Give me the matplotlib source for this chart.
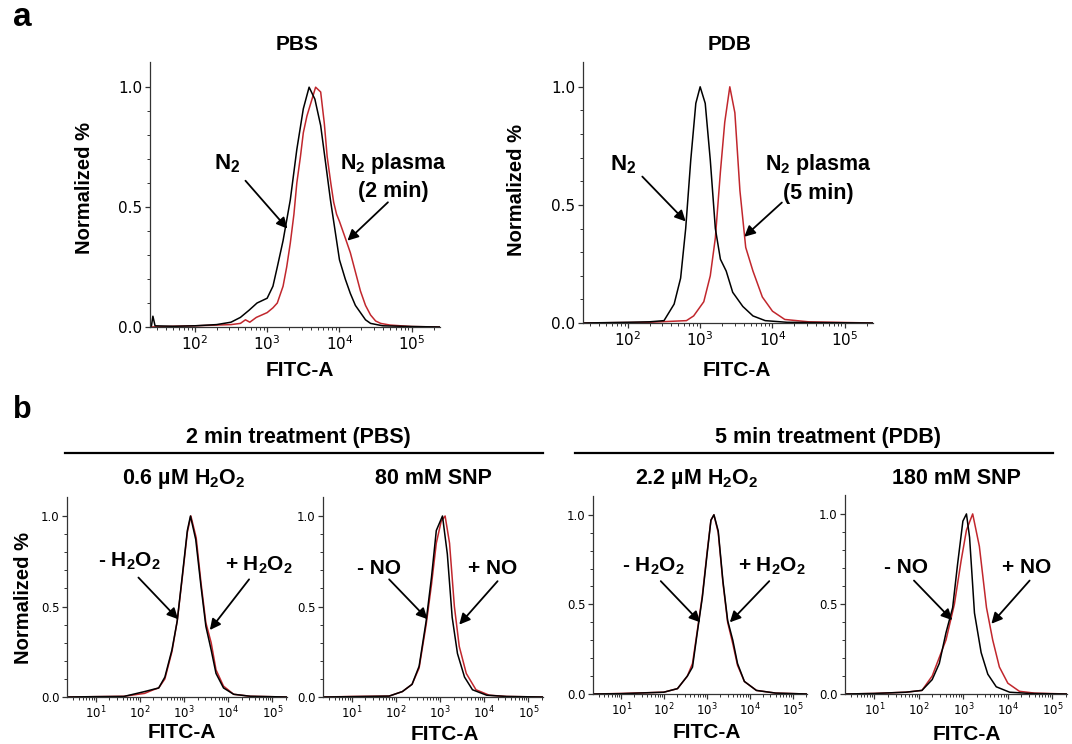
import matplotlib
matplotlib.use("Agg")
import matplotlib.pyplot as plt
from matplotlib.ticker import FixedLocator, FormatStrFormatter, LogLocator, NullFormatter

W, H = 1072, 744
RED = "#c1272d"
LABEL_FONT = "Liberation Sans"
TICK_FONT = "DejaVu Sans"

# histograms: log10(FITC-A) and normalized count
pbs_n2_x = [1.38, 1.40, 1.42, 1.45, 1.7, 2.0, 2.3, 2.5, 2.63, 2.75, 2.86, 3.0, 3.08, 3.14, 3.22,
            3.32, 3.41, 3.5, 3.58, 3.66, 3.74, 3.81, 3.875, 3.94, 4.0, 4.08, 4.15, 4.22, 4.29,
            4.36, 4.43, 4.6, 5.0, 5.39]
pbs_n2_y = [0.0, 0.005, 0.045, 0.005, 0.003, 0.005, 0.01, 0.02, 0.04, 0.07, 0.10, 0.12, 0.17, 0.25,
            0.36, 0.53, 0.74, 0.91, 1.0, 0.95, 0.84, 0.68, 0.53, 0.40, 0.28, 0.20, 0.14, 0.09, 0.06,
            0.03, 0.015, 0.005, 0.002, 0.0]
pbs_pl_x = [1.38, 1.7, 2.0, 2.3, 2.5, 2.63, 2.7, 2.76, 2.85, 3.0, 3.08, 3.14, 3.22, 3.27, 3.32,
            3.37, 3.41, 3.46, 3.5, 3.55, 3.6, 3.67, 3.74, 3.79, 3.83, 3.88, 3.92, 3.96, 4.0, 4.07,
            4.15, 4.22, 4.29, 4.36, 4.43, 4.5, 4.57, 4.7, 4.85, 5.0, 5.39]
pbs_pl_y = [0.0, 0.003, 0.005, 0.008, 0.01, 0.015, 0.03, 0.02, 0.04, 0.06, 0.08, 0.10, 0.17, 0.25,
            0.35, 0.47, 0.60, 0.71, 0.81, 0.88, 0.93, 1.0, 0.98, 0.85, 0.71, 0.60, 0.52, 0.47, 0.44,
            0.38, 0.31, 0.23, 0.15, 0.09, 0.05, 0.025, 0.015, 0.008, 0.005, 0.002, 0.0]

pdb_n2_x = [1.38, 2.0, 2.3, 2.5, 2.64, 2.73, 2.80, 2.87, 2.94, 3.00, 3.07, 3.14, 3.21, 3.28, 3.36,
            3.45, 3.59, 3.73, 3.9, 4.2, 5.39]
pdb_n2_y = [0.0, 0.003, 0.005, 0.01, 0.08, 0.19, 0.40, 0.69, 0.93, 1.0, 0.93, 0.69, 0.40, 0.27,
            0.22, 0.13, 0.07, 0.03, 0.01, 0.003, 0.0]
pdb_pl_x = [1.38, 2.3, 2.81, 2.91, 3.05, 3.14, 3.21, 3.28, 3.34, 3.41, 3.48, 3.55, 3.63, 3.73,
            3.86, 4.0, 4.17, 4.5, 5.39]
pdb_pl_y = [0.0, 0.003, 0.01, 0.03, 0.09, 0.20, 0.36, 0.64, 0.85, 1.0, 0.89, 0.56, 0.32, 0.22,
            0.11, 0.05, 0.015, 0.005, 0.0]

h2o2_a_ctrl_x = [0.34, 1.0, 1.63, 2.10, 2.42, 2.56, 2.72, 2.84, 2.96, 3.07, 3.14, 3.26, 3.38, 3.49,
                 3.61, 3.72, 3.89, 4.12, 4.5, 5.33]
h2o2_a_ctrl_y = [0.0, 0.002, 0.003, 0.03, 0.05, 0.11, 0.26, 0.42, 0.68, 0.92, 1.0, 0.87, 0.61, 0.39,
                 0.26, 0.13, 0.05, 0.015, 0.004, 0.0]
h2o2_a_trt_x = [0.34, 1.0, 1.63, 2.10, 2.30, 2.42, 2.56, 2.72, 2.84, 2.96, 3.07, 3.15, 3.27, 3.38,
                3.49, 3.61, 3.72, 3.89, 4.12, 4.5, 5.33]
h2o2_a_trt_y = [0.0, 0.002, 0.004, 0.02, 0.04, 0.05, 0.10, 0.25, 0.42, 0.67, 0.91, 1.0, 0.88, 0.63,
                0.41, 0.30, 0.15, 0.06, 0.015, 0.004, 0.0]

snp_a_ctrl_x = [0.34, 1.0, 1.84, 2.14, 2.36, 2.52, 2.68, 2.80, 2.91, 3.05, 3.16, 3.27, 3.39, 3.55,
                3.73, 4.05, 4.5, 5.33]
snp_a_ctrl_y = [0.0, 0.002, 0.005, 0.03, 0.07, 0.17, 0.42, 0.66, 0.92, 1.0, 0.79, 0.44, 0.24, 0.11,
                0.04, 0.01, 0.003, 0.0]
snp_a_trt_x = [0.34, 1.0, 1.84, 2.14, 2.36, 2.52, 2.68, 2.80, 2.91, 3.02, 3.11, 3.21, 3.32, 3.43,
               3.59, 3.81, 4.11, 4.5, 5.33]
snp_a_trt_y = [0.0, 0.003, 0.005, 0.03, 0.07, 0.16, 0.40, 0.62, 0.85, 0.97, 1.0, 0.85, 0.50, 0.28,
               0.13, 0.04, 0.01, 0.003, 0.0]

h2o2_b_ctrl_x = [0.34, 1.0, 1.99, 2.31, 2.54, 2.66, 2.77, 2.89, 3.00, 3.09, 3.16, 3.26, 3.37, 3.48,
                 3.60, 3.71, 3.87, 4.15, 4.6, 5.33]
h2o2_b_ctrl_y = [0.0, 0.002, 0.01, 0.03, 0.10, 0.15, 0.34, 0.54, 0.78, 0.97, 1.0, 0.91, 0.63, 0.41,
                 0.30, 0.17, 0.07, 0.02, 0.005, 0.0]
h2o2_b_trt_x = [0.34, 1.0, 1.99, 2.31, 2.54, 2.66, 2.77, 2.89, 3.00, 3.09, 3.16, 3.26, 3.37, 3.48,
                3.60, 3.71, 3.87, 4.15, 4.6, 5.33]
h2o2_b_trt_y = [0.0, 0.003, 0.01, 0.03, 0.10, 0.17, 0.35, 0.55, 0.79, 0.97, 1.0, 0.90, 0.62, 0.40,
                0.28, 0.16, 0.07, 0.02, 0.005, 0.0]

snp_b_ctrl_x = [0.34, 1.0, 1.71, 2.07, 2.30, 2.46, 2.61, 2.76, 2.87, 2.99, 3.07, 3.14, 3.25, 3.40,
                3.55, 3.74, 4.04, 4.5, 5.33]
snp_b_ctrl_y = [0.0, 0.003, 0.01, 0.02, 0.08, 0.17, 0.34, 0.48, 0.72, 0.96, 1.0, 0.87, 0.45, 0.23,
                0.11, 0.04, 0.01, 0.003, 0.0]
snp_b_trt_x = [0.34, 1.0, 1.71, 2.07, 2.30, 2.61, 2.80, 2.95, 3.07, 3.21, 3.36, 3.52, 3.66, 3.81,
               4.00, 4.26, 4.6, 5.33]
snp_b_trt_y = [0.0, 0.003, 0.01, 0.02, 0.10, 0.30, 0.50, 0.74, 0.91, 1.0, 0.82, 0.48, 0.30, 0.15,
               0.06, 0.015, 0.005, 0.0]

plt.rcParams["font.family"] = [LABEL_FONT, "DejaVu Sans"]

fig = plt.figure(figsize=(W / 100, H / 100), dpi=100)


def px_axes(l, r, t, b):
    return fig.add_axes([l / W, 1 - b / H, (r - l) / W, (b - t) / H])


def ftext(x, y, s, size, **kw):
    fig.text(x / W, 1 - y / H, s, fontsize=size, fontweight="bold",
             ha=kw.pop("ha", "center"), va=kw.pop("va", "center"), **kw)


def style(ax, xlo, xhi, tick_size):
    ax.set_xscale("log")
    ax.set_xlim(10 ** xlo, 10 ** xhi)
    ax.set_ylim(0, 1.105)
    for s in ("top", "right"):
        ax.spines[s].set_visible(False)
    for s in ("left", "bottom"):
        ax.spines[s].set_color("#333333")
        ax.spines[s].set_linewidth(0.9)
    ax.yaxis.set_major_locator(FixedLocator([0.0, 0.5, 1.0]))
    ax.yaxis.set_minor_locator(FixedLocator([0.1, 0.2, 0.3, 0.4, 0.6, 0.7, 0.8, 0.9]))
    ax.yaxis.set_major_formatter(FormatStrFormatter("%.1f"))
    ax.xaxis.set_major_locator(LogLocator(base=10, numticks=12))
    ax.xaxis.set_minor_locator(LogLocator(base=10, subs=range(2, 10), numticks=12))
    ax.xaxis.set_minor_formatter(NullFormatter())
    ax.tick_params(which="major", direction="out", length=3.5, width=0.9, color="#333333",
                   labelsize=tick_size, pad=2)
    ax.tick_params(which="minor", direction="out", length=2, width=0.7, color="#333333")
    for lab in ax.get_xticklabels() + ax.get_yticklabels():
        lab.set_fontfamily(TICK_FONT)


def curves(ax, xs_ctrl, ys_ctrl, xs_trt, ys_trt):
    ax.plot([10 ** v for v in xs_trt], ys_trt, color=RED, lw=1.1)
    ax.plot([10 ** v for v in xs_ctrl], ys_ctrl, color="black", lw=1.1)


def label(ax, x, y, s, size=15):
    ax.text(10 ** x, y, s, fontsize=size, fontweight="bold", ha="center", va="center")


def arrow(ax, tail, head):
    ax.annotate("", xy=(10 ** head[0], head[1]), xytext=(10 ** tail[0], tail[1]),
                arrowprops=dict(arrowstyle="-|>", color="black", lw=1.3,
                                mutation_scale=16, shrinkA=0, shrinkB=0))


# ---- panel a ----
ax1 = px_axes(150, 440, 62, 327)
style(ax1, 1.38, 5.39, 11)
curves(ax1, pbs_n2_x, pbs_n2_y, pbs_pl_x, pbs_pl_y)
label(ax1, 2.45, 0.68, r"$\mathregular{N_2}$", 16)
arrow(ax1, (2.70, 0.61), (3.28, 0.41))
label(ax1, 4.74, 0.68, r"$\mathregular{N_2}$ plasma", 15.5)
label(ax1, 4.74, 0.565, "(2 min)", 15.5)
arrow(ax1, (4.67, 0.52), (4.11, 0.36))

ax2 = px_axes(583, 873, 62, 323)
style(ax2, 1.38, 5.39, 11)
curves(ax2, pdb_n2_x, pdb_n2_y, pdb_pl_x, pdb_pl_y)
label(ax2, 1.93, 0.67, r"$\mathregular{N_2}$", 16)
arrow(ax2, (2.20, 0.62), (2.80, 0.43))
label(ax2, 4.63, 0.67, r"$\mathregular{N_2}$ plasma", 15.5)
label(ax2, 4.63, 0.55, "(5 min)", 15.5)
arrow(ax2, (4.13, 0.51), (3.61, 0.365))

ftext(22, 18, "a", 24)
ftext(297, 44, "PBS", 15)
ftext(730, 44, "PDB", 15)
ftext(300, 371, "FITC-A", 15)
ftext(737, 370, "FITC-A", 15)
ftext(84, 188, "Normalized %", 14.5, rotation=90)
ftext(517, 190, "Normalized %", 14.5, rotation=90)

# ---- panel b ----
h2o2 = r"$\mathregular{H_2O_2}$"
ax3 = px_axes(67, 287, 497, 697)
style(ax3, 0.34, 5.33, 8.5)
curves(ax3, h2o2_a_ctrl_x, h2o2_a_ctrl_y, h2o2_a_trt_x, h2o2_a_trt_y)
label(ax3, 1.75, 0.75, "- " + h2o2)
arrow(ax3, (1.96, 0.66), (2.86, 0.43))
label(ax3, 4.70, 0.73, "+ " + h2o2)
arrow(ax3, (4.47, 0.65), (3.58, 0.37))

ax4 = px_axes(323, 543, 497, 697)
style(ax4, 0.34, 5.33, 8.5)
curves(ax4, snp_a_ctrl_x, snp_a_ctrl_y, snp_a_trt_x, snp_a_trt_y)
label(ax4, 1.61, 0.71, "- NO")
arrow(ax4, (1.84, 0.65), (2.71, 0.43))
label(ax4, 4.18, 0.71, "+ NO")
arrow(ax4, (4.30, 0.64), (3.43, 0.40))

ax5 = px_axes(593, 807, 496, 694)
style(ax5, 0.34, 5.33, 8.5)
curves(ax5, h2o2_b_ctrl_x, h2o2_b_ctrl_y, h2o2_b_trt_x, h2o2_b_trt_y)
label(ax5, 1.74, 0.71, "- " + h2o2)
arrow(ax5, (1.92, 0.63), (2.84, 0.40))
label(ax5, 4.52, 0.71, "+ " + h2o2)
arrow(ax5, (4.45, 0.63), (3.53, 0.40))

ax6 = px_axes(845, 1067, 495, 694)
style(ax6, 0.34, 5.33, 8.5)
curves(ax6, snp_b_ctrl_x, snp_b_ctrl_y, snp_b_trt_x, snp_b_trt_y)
label(ax6, 1.71, 0.70, "- NO")
arrow(ax6, (1.89, 0.63), (2.75, 0.41))
label(ax6, 4.42, 0.70, "+ NO")
arrow(ax6, (4.49, 0.63), (3.63, 0.39))

ftext(22, 410, "b", 22)
ftext(298, 438, "2 min treatment (PBS)", 15.5)
ftext(828, 438, "5 min treatment (PDB)", 15.5)
fig.add_artist(plt.Line2D([65 / W, 543 / W], [1 - 453 / H] * 2, color="black", lw=1.6))
fig.add_artist(plt.Line2D([575 / W, 1053 / W], [1 - 453 / H] * 2, color="black", lw=1.6))
ftext(184, 479, "0.6 µM " + h2o2, 15.5)
ftext(433, 478, "80 mM SNP", 15.5)
ftext(697, 479, "2.2 µM " + h2o2, 15.5)
ftext(956, 478, "180 mM SNP", 15.5)
ftext(182, 733, "FITC-A", 15)
ftext(445, 735, "FITC-A", 15)
ftext(707, 732, "FITC-A", 15)
ftext(967, 735, "FITC-A", 15)
ftext(24, 598, "Normalized %", 14.5, rotation=90)

fig.savefig("out.png", dpi=100)
